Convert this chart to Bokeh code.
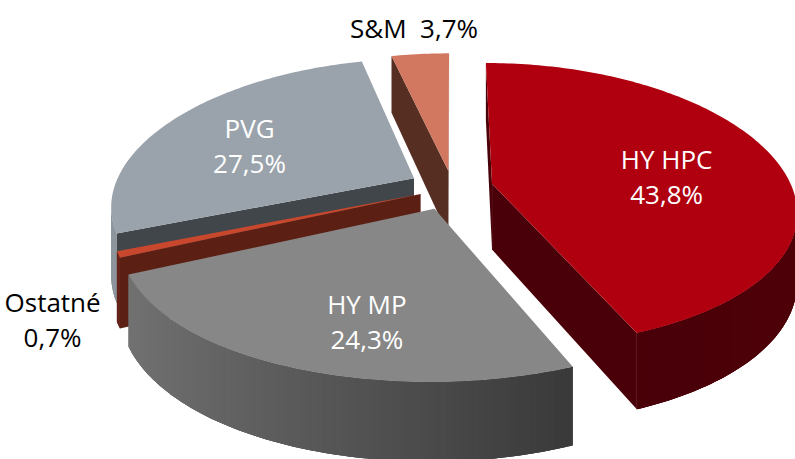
import math
from bokeh.plotting import figure
from bokeh.models import Range1d
from bokeh.embed import file_html
from bokeh.resources import INLINE
from bokeh.core.properties import value

# ---------------- data ----------------
categories = ["HY HPC", "HY MP", "Ostatné", "PVG", "S&M"]
shares = [43.8, 24.3, 0.7, 27.5, 3.7]

# ---------------- styles ----------------
top_colors = ["#B0000F", "#878787", "#C9472C", "#9AA3AB", "#D27860"]
face_colors = ["#4A0008", "#505050", "#5C1F14", "#41464B", "#562E22"]
wall_light = ["#3A0004", "#767676", "#66241A", "#8E979E", "#5E3426"]
wall_dark = ["#4F0009", "#1E1E1E", "#4E1A10", "#6A7278", "#4A281D"]
explode = [0.135, 0.16, 0.115, 0.146, 0.12]
label_r = [0.595, 0.712, 1.287, 0.638, 1.268]
label_dtheta = [5.7, -6.55, -13.7, -4.0, 0.0]
label_color = ["white", "white", "black", "white", "black"]
label_two_lines = [True, True, True, True, False]

# projection (pixels)
CX, CY = 452.0, 187.0
F, RHO_X = 300.0, 0.185
FK, RHO_Y = 140.0, 0.15
WALL = 66.0
LINE_GAP = 17.5
W, H = 795, 459


def proj(X, Z, bottom=False):
    sx = CX + F * X / (1 - RHO_X * Z)
    sy = CY + FK * Z / (1 - RHO_Y * Z)
    if bottom:
        sy += WALL / (1 - RHO_Y * Z)
    return sx, sy


def direction(theta):
    r = math.radians(theta)
    return math.sin(r), -math.cos(r)


def hex2rgb(h):
    h = h.lstrip("#")
    return tuple(int(h[k:k + 2], 16) for k in (0, 2, 4))


def lerp_color(c0, c1, t):
    a, b = hex2rgb(c0), hex2rgb(c1)
    return "#%02x%02x%02x" % tuple(int(round(a[k] + (b[k] - a[k]) * t)) for k in range(3))


total = sum(shares)
slices = []
cum = 0.0
for i, v in enumerate(shares):
    a0 = 360.0 * cum / total
    cum += v
    a1 = 360.0 * cum / total
    bis = 0.5 * (a0 + a1)
    dx, dz = direction(bis)
    ax, az = explode[i] * dx, explode[i] * dz
    n = max(3, int(math.ceil((a1 - a0) / 1.0)) + 1)
    thetas = [a0 + (a1 - a0) * k / (n - 1) for k in range(n)]
    outer = [(ax + direction(t)[0], az + direction(t)[1]) for t in thetas]
    slices.append(dict(i=i, a0=a0, a1=a1, bis=bis, ax=ax, az=az,
                       thetas=thetas, outer=outer, key=az + 0.5 * dz))

order = sorted(slices, key=lambda s: s["key"])

wall_xs, wall_ys, wall_cols = [], [], []
top_xs, top_ys, top_cols = [], [], []


def add_wall(pts, col):
    wall_xs.append([q[0] for q in pts])
    wall_ys.append([q[1] for q in pts])
    wall_cols.append(col)


for s in order:
    i = s["i"]
    ax, az = s["ax"], s["az"]
    at = proj(ax, az)
    ab = proj(ax, az, True)
    tops = [proj(X, Z) for X, Z in s["outer"]]
    bots = [proj(X, Z, True) for X, Z in s["outer"]]
    th = s["thetas"]
    # radial faces
    if tops[0][0] < at[0]:
        add_wall([at, tops[0], bots[0], ab], face_colors[i])
    if tops[-1][0] > at[0]:
        add_wall([at, tops[-1], bots[-1], ab], face_colors[i])
    # outer wall: visible runs, each a base polygon plus overlapping shaded strips
    vis = [tops[j + 1][0] < tops[j][0] for j in range(len(tops) - 1)]
    j = 0
    while j < len(vis):
        if not vis[j]:
            j += 1
            continue
        k = j
        while k < len(vis) and vis[k]:
            k += 1
        mid = 0.5 * (th[j] + th[k])
        tm = (1 - math.sin(math.radians(mid))) / 2
        add_wall(tops[j:k + 1] + bots[j:k + 1][::-1], lerp_color(wall_dark[i], wall_light[i], tm))
        for m in range(j, k):
            e = min(m + 2, k)
            mm = 0.5 * (th[m] + th[m + 1])
            t = (1 - math.sin(math.radians(mm))) / 2
            add_wall(tops[m:e + 1] + bots[m:e + 1][::-1],
                     lerp_color(wall_dark[i], wall_light[i], t))
        j = k
    top_pts = [at] + tops
    top_xs.append([q[0] for q in top_pts])
    top_ys.append([q[1] for q in top_pts])
    top_cols.append(top_colors[i])

# labels
lx, ly, lt, lc = [], [], [], []
for s in slices:
    i = s["i"]
    dx, dz = direction(s["bis"] + label_dtheta[i])
    px, py = proj(s["ax"] + label_r[i] * dx, s["az"] + label_r[i] * dz)
    pct = ("%.1f" % shares[i]).replace(".", ",") + "%"
    if label_two_lines[i]:
        lx += [px, px]
        ly += [py - LINE_GAP, py + LINE_GAP]
        lt += [categories[i], pct]
        lc += [label_color[i]] * 2
    else:
        lx.append(px)
        ly.append(py)
        lt.append(categories[i] + "\u00a0\u00a0" + pct)
        lc.append(label_color[i])

p = figure(width=W, height=H, x_range=Range1d(0, W), y_range=Range1d(H, 0),
           output_backend="svg", toolbar_location=None, min_border=0)
p.axis.visible = False
p.grid.visible = False
p.outline_line_color = None
p.background_fill_color = "white"
p.border_fill_color = "white"

p.patches(wall_xs, wall_ys, fill_color=wall_cols, line_color=None)
p.patches(top_xs, top_ys, fill_color=top_cols, line_color=None)
p.text(x=lx, y=ly, text=lt, text_color=lc, text_font=value("Open Sans"),
       text_font_size=value("26px"), text_align="center", text_baseline="middle")

open("out.html", "w").write(file_html(p, INLINE))
